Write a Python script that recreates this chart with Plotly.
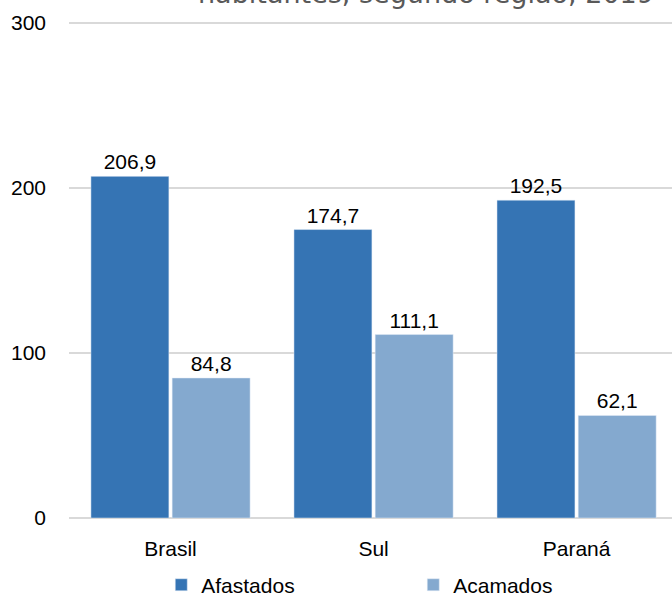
import plotly.graph_objects as go

categories = ["Brasil", "Sul", "Paraná"]
afastados = [206.9, 174.7, 192.5]
acamados = [84.8, 111.1, 62.1]
y_ticks = [0, 100, 200, 300]
title_line = "habitantes, segundo região, 2019"

FONT = "Liberation Sans, Arial"
FS = 21
C1 = "#3574B4"
C2 = "#84A9CF"

fig = go.Figure()
fig.add_trace(go.Bar(name="Afastados", x=categories, y=afastados, marker_color=C1,
                     texttemplate="%{y:.1f}", textposition="outside",
                     textfont=dict(size=FS, color="#000000", family=FONT), cliponaxis=False))
fig.add_trace(go.Bar(name="Acamados", x=categories, y=acamados, marker_color=C2,
                     texttemplate="%{y:.1f}", textposition="outside",
                     textfont=dict(size=FS, color="#000000", family=FONT), cliponaxis=False))

fig.update_layout(
    width=672, height=604,
    margin=dict(l=68.5, r=0, t=21, b=86, pad=0, autoexpand=False),
    paper_bgcolor="white", plot_bgcolor="white",
    separators=",.",
    barmode="group", bargap=0.2, bargroupgap=0.04,
    font=dict(family=FONT, size=FS, color="#000000"),
    showlegend=True,
    legend=dict(orientation="h", x=0.153, xanchor="left", y=-0.135, yanchor="middle",
                font=dict(size=FS, family=FONT), entrywidth=207, itemwidth=30,
                traceorder="normal"),
    xaxis=dict(range=[-0.5, 2.47], showgrid=False, showline=False, zeroline=False,
               ticks="", ticklabelstandoff=16, tickfont=dict(size=FS)),
    yaxis=dict(range=[0, 301], tickvals=y_ticks, showgrid=True, gridcolor="#D9D9D9",
               gridwidth=1.5, zeroline=True, zerolinecolor="#D9D9D9", zerolinewidth=2,
               showline=False, ticks="", ticklabelstandoff=22, tickfont=dict(size=FS)),
    annotations=[dict(text=title_line, xref="paper", yref="paper", x=0.9735, y=1.020,
                      xanchor="right", yanchor="bottom", showarrow=False,
                      font=dict(size=27, color="#595959", family="DejaVu Sans"))],
)

fig.write_html("out.html", config={"displayModeBar": False},
               post_script="document.body.style.margin='0';")
